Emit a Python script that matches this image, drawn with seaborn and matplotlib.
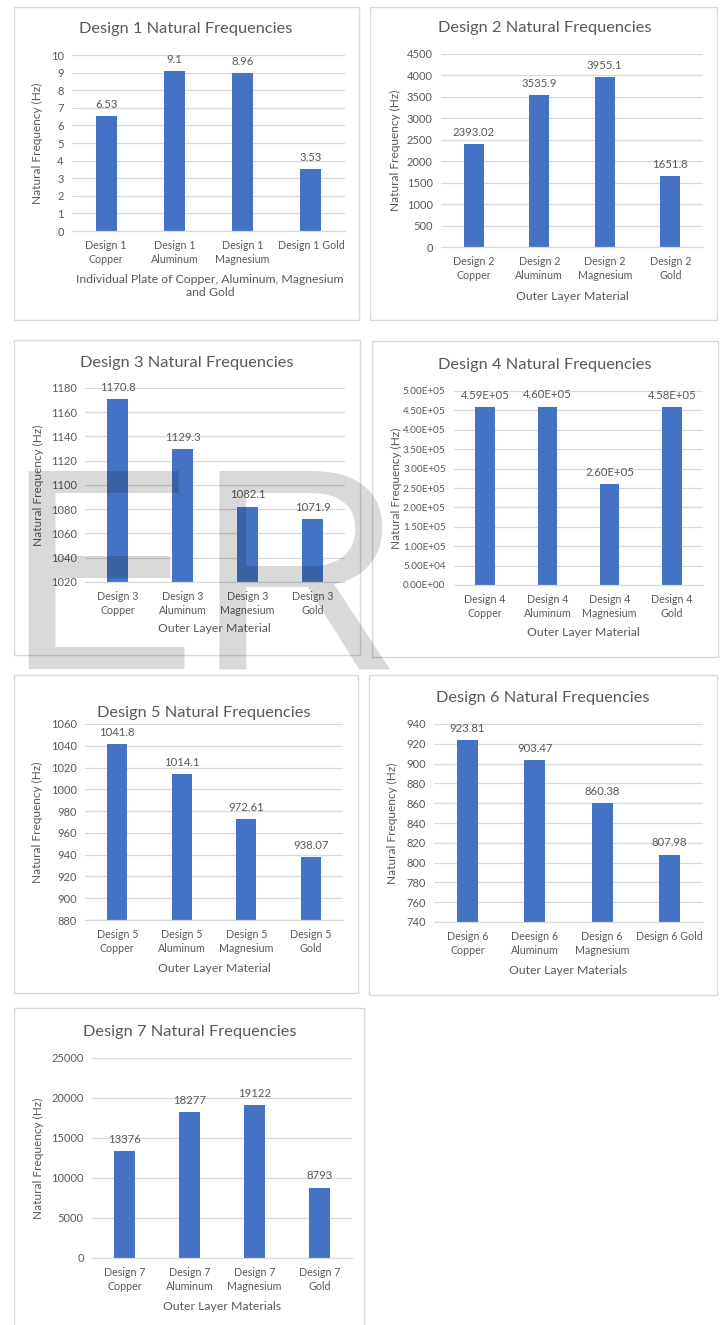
import numpy as np
import pandas as pd
import matplotlib
matplotlib.use("Agg")
import matplotlib.pyplot as plt
from matplotlib.patches import Rectangle
from matplotlib.ticker import FuncFormatter
import seaborn as sns

# ---------------- data ----------------
d1_labels = ["Design 1\nCopper", "Design 1\nAluminum", "Design 1\nMagnesium", "Design 1 Gold"]
d1_values = [6.53, 9.1, 8.96, 3.53]
d1_text = ["6.53", "9.1", "8.96", "3.53"]

d2_labels = ["Design 2\nCopper", "Design 2\nAluminum", "Design 2\nMagnesium", "Design 2\nGold"]
d2_values = [2393.02, 3535.9, 3955.1, 1651.8]
d2_text = ["2393.02", "3535.9", "3955.1", "1651.8"]

d3_labels = ["Design 3\nCopper", "Design 3\nAluminum", "Design 3\nMagnesium", "Design 3\nGold"]
d3_values = [1170.8, 1129.3, 1082.1, 1071.9]
d3_text = ["1170.8", "1129.3", "1082.1", "1071.9"]

d4_labels = ["Design 4\nCopper", "Design 4\nAluminum", "Design 4\nMagnesium", "Design 4\nGold"]
d4_values = [4.59e5, 4.60e5, 2.60e5, 4.58e5]
d4_text = ["4.59E+05", "4.60E+05", "2.60E+05", "4.58E+05"]

d5_labels = ["Design 5\nCopper", "Design 5\nAluminum", "Design 5\nMagnesium", "Design 5\nGold"]
d5_values = [1041.8, 1014.1, 972.61, 938.07]
d5_text = ["1041.8", "1014.1", "972.61", "938.07"]

d6_labels = ["Design 6\nCopper", "Deesign 6\nAluminum", "Design 6\nMagnesium", "Design 6 Gold"]
d6_values = [923.81, 903.47, 860.38, 807.98]
d6_text = ["923.81", "903.47", "860.38", "807.98"]

d7_labels = ["Design 7\nCopper", "Design 7\nAluminum", "Design 7\nMagnesium", "Design 7\nGold"]
d7_values = [13376, 18277, 19122, 8793]
d7_text = ["13376", "18277", "19122", "8793"]

titles = ["Design 1 Natural Frequencies", "Design 2 Natural Frequencies",
          "Design 3 Natural Frequencies", "Design 4 Natural Frequencies",
          "Design 5 Natural Frequencies", "Design 6 Natural Frequencies",
          "Design 7 Natural Frequencies"]
xlabels = ["Individual Plate of Copper, Aluminum, Magnesium\nand Gold",
           "Outer Layer Material", "Outer Layer Material", "Outer Layer Material",
           "Outer Layer Material", "Outer Layer Materials", "Outer Layer Materials"]
ylabel = "Natural Frequency (Hz)"
y_ranges = [(0, 10, 1), (0, 4500, 500), (1020, 1180, 20), (0, 5e5, 5e4),
            (880, 1060, 20), (740, 940, 20), (0, 25000, 5000)]

# ---------------- style ----------------
sns.set_theme(style="white")
plt.rcParams['font.family'] = ['Lato', 'DejaVu Sans']
BAR = "#4472C4"
TXT = "#595959"
GRID = "#d9d9d9"

W, H = 720, 1325
fig = plt.figure(figsize=(W / 100, H / 100), dpi=100)
fig.patch.set_facecolor("white")

# layout in pixels: plot area (left, right, top, bottom), box (l, r, t, b),
# title centre (x, y), ylabel centre x, xlabel top (x, y)
layout = [
    dict(ax=(72, 345, 55, 231), box=(14, 359, 7, 320), title=(186, 29), yl=38, xl=(210, 274)),
    dict(ax=(441, 703, 54, 247), box=(370, 717, 7, 320), title=(545, 28), yl=396, xl=(572, 291)),
    dict(ax=(85, 345, 388, 582), box=(14, 360, 340, 655), title=(187, 363), yl=39, xl=(214, 623)),
    dict(ax=(454, 703, 391, 585), box=(372, 718, 341, 657), title=(545, 365), yl=397, xl=(583, 627)),
    dict(ax=(85, 343, 724, 920), box=(14, 358, 675, 993), title=(204, 713), yl=38, xl=(214, 963)),
    dict(ax=(434, 703, 724, 922), box=(369, 717, 675, 995), title=(543, 698), yl=393, xl=(568, 965)),
    dict(ax=(92, 352, 1058, 1258), box=(14, 364, 1008, 1330), title=(190, 1032), yl=39, xl=(222, 1301)),
]

datasets = [(d1_labels, d1_values, d1_text), (d2_labels, d2_values, d2_text),
            (d3_labels, d3_values, d3_text), (d4_labels, d4_values, d4_text),
            (d5_labels, d5_values, d5_text), (d6_labels, d6_values, d6_text),
            (d7_labels, d7_values, d7_text)]

sci = FuncFormatter(lambda v, p: "{:.2E}".format(v))

for i, (lay, (labs, vals, txts)) in enumerate(zip(layout, datasets)):
    bl, br, bt, bb = lay["box"]
    fig.patches.append(Rectangle((bl / W, 1 - bb / H), (br - bl) / W, (bb - bt) / H,
                                 transform=fig.transFigure, fill=False,
                                 edgecolor=GRID, linewidth=1.0, zorder=0))
    l, r, t, b = lay["ax"]
    axw, axh = (r - l), (b - t)
    ax = fig.add_axes([l / W, 1 - b / H, axw / W, axh / H])
    ax.set_facecolor("none")
    df = pd.DataFrame({"cat": labs, "val": vals})
    sns.barplot(data=df, x="cat", y="val", color=BAR, saturation=1, width=0.31,
                ax=ax, edgecolor="none", zorder=2)
    lo, hi, step = y_ranges[i]
    ax.set_ylim(lo, hi)
    ax.set_xlim(-0.5, 3.5)
    ax.set_yticks(np.arange(lo, hi + step / 2, step))
    if i == 3:
        ax.yaxis.set_major_formatter(sci)
    ax.grid(axis="y", color=GRID, linewidth=0.9, zorder=0)
    ax.set_axisbelow(True)
    for s in ["top", "right", "left"]:
        ax.spines[s].set_visible(False)
    ax.spines["bottom"].set_color(GRID)
    ax.spines["bottom"].set_linewidth(0.9)
    ax.tick_params(axis="both", length=0, colors=TXT)
    ax.tick_params(axis="y", pad=6, labelsize=7.2 if i == 3 else 8.0)
    ax.tick_params(axis="x", pad=6.5, labelsize=7.7)
    for lab in ax.get_xticklabels():
        lab.set_linespacing(1.3)
    ax.bar_label(ax.containers[0], labels=txts, padding=4.5, fontsize=8.2, color=TXT)
    ax.set_xlabel(xlabels[i], fontsize=8.8, color=TXT, linespacing=1.25)
    ax.xaxis.set_label_coords((lay["xl"][0] - l) / axw, (b - lay["xl"][1]) / axh)
    ax.set_ylabel(ylabel, fontsize=8.6, color=TXT)
    ax.yaxis.set_label_coords((lay["yl"] + 5 - l) / axw, 0.5)
    ax.text((lay["title"][0] - l) / axw, (b - lay["title"][1]) / axh, titles[i],
            transform=ax.transAxes, ha="center", va="center", fontsize=11.8, color=TXT)

# watermark overlay
fig.text(4 / W, 1 - 668 / H, "ER", fontsize=207, family="Liberation Sans",
         color="black", alpha=0.15, ha="left", va="baseline", zorder=100)

fig.savefig("out.png", dpi=100, facecolor="white")
